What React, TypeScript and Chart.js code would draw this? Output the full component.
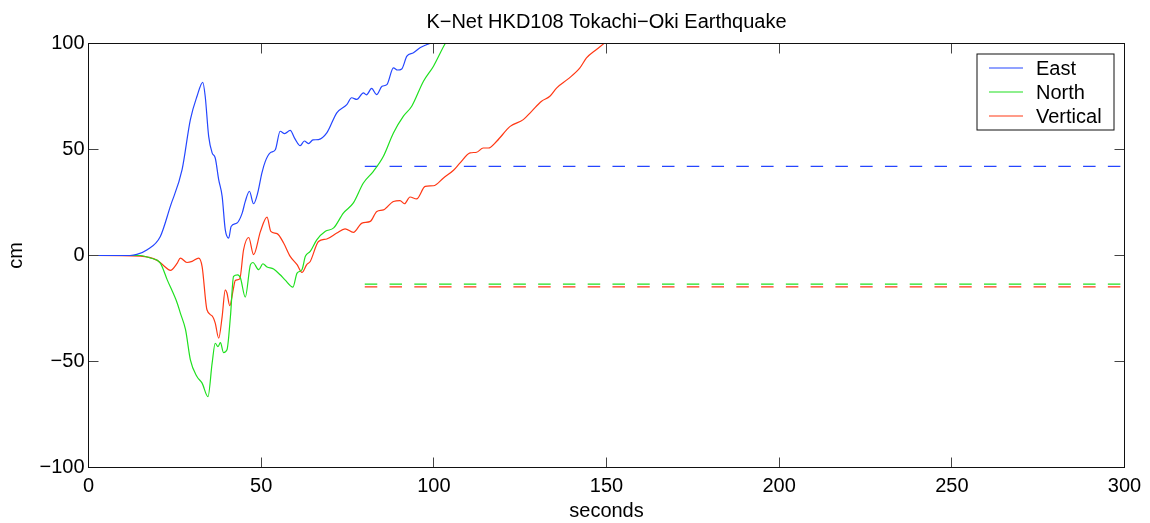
import React, { useEffect, useRef } from "react";
import { Chart, registerables } from "chart.js";
Chart.register(...registerables);

const TITLE = "K\u2212Net HKD108 Tokachi\u2212Oki Earthquake";
const X_LABEL = "seconds";
const Y_LABEL = "cm";
const X_TICKS = [0, 50, 100, 150, 200, 250, 300];
const Y_TICKS = [-100, -50, 0, 50, 100];
const SERIES_NAMES = ["East", "North", "Vertical"];
const COLORS = ["#2446ff", "#1fe01f", "#ff3814"];

// East component (time in s, displacement in cm)
const eastT = [0, 12, 14, 17, 20.8, 23.7, 27.1, 29.5, 31.4, 33.1,
  33.8, 34.8, 35.8, 36.7, 37.7, 38.7, 39.6, 40.6, 41.3, 43,
  44.5, 45.4, 46.6, 47.8, 49, 50.2, 51.2, 52.6, 54.1, 55.5,
  56.8, 58.4, 59.8, 61.3, 62.5, 63.7, 65, 66.6, 69, 71.9,
  74.8, 76.2, 77.7, 79.6, 80.5, 82, 83.4, 85, 86.4, 88.3,
  89.5, 90.7, 92.2, 94.1, 96, 98, 100, 102];
const eastV = [0, 0, 0.5, 2.7, 9, 23.2, 40.5, 64.1, 75, 81.7,
  75, 56.2, 48.4, 46, 35.8, 27.9, 12.2, 8.2, 13.7, 15.3,
  20, 25.5, 30.3, 24.4, 29.5, 38.9, 44.4, 48.4, 49.9, 58.6,
  57.5, 59, 55, 51.8, 54, 52.8, 54.5, 54.7, 57.8, 67.3,
  71.2, 74.4, 73.6, 76.7, 75.8, 78.8, 75.9, 79.8, 80.6, 88.5,
  87.5, 88, 94, 95.6, 98, 99.5, 101, 104];

// North component
const northT = [0, 15, 17.9, 20.8, 22.8, 25.7, 26.6, 28.1, 29.5, 31.4,
  32.9, 34.6, 35.8, 36.7, 37.5, 38.2, 39.1, 40.1, 41.1, 42,
  43.2, 44, 45.4, 46.9, 47.6, 49.3, 50.5, 51.7, 53.6, 55.5,
  56.9, 59.2, 60.4, 61.8, 62.8, 64.2, 66.1, 68.6, 71, 73.8,
  76.7, 79.6, 82.5, 85.4, 88.3, 91.2, 93.6, 97, 99.9, 103.3,
  105];
const northV = [0, 0, -1.2, -3.6, -11.5, -22.5, -27.2, -35, -49.2, -57.1,
  -60.2, -66.6, -50.8, -41.4, -43, -41.1, -45.8, -44.5, -28.8, -9.9,
  -9.1, -10.6, -19.6, -4.3, -3.3, -6.7, -3.9, -5.4, -6.4, -9.1,
  -11.5, -14.9, -8.3, -6.7, -0.4, 1.9, 7.4, 11.4, 13, 20,
  24.8, 34.2, 39.7, 46.8, 57.8, 65.7, 70.4, 82.2, 89.3, 100,
  104];

// Vertical component
const vertT = [0, 15, 19.9, 21.8, 23.7, 25.7, 26.6, 28.5, 30, 31.9,
  32.9, 34.3, 35.8, 36.7, 37.7, 38.7, 39.6, 40.1, 40.9, 41.9,
  42.5, 43.8, 44.9, 46.4, 47.8, 49.8, 51.7, 52.8, 54.6, 56.5,
  58.4, 60.4, 61.8, 63.2, 64.2, 66.6, 69, 71.9, 74.3, 76.7,
  79.2, 81.6, 83.5, 85.4, 88.3, 90.2, 91.5, 93.1, 95, 97.5,
  99.9, 102.8, 105.7, 107.6, 110.5, 112.4, 114.3, 115.8, 118.2, 122.1,
  125.9, 128.3, 131.2, 133.6, 135.6, 138.9, 142.3, 144.2, 147.1, 149.5,
  151];
const vertV = [0, -0.3, -2.3, -4.8, -7, -3.6, -1.2, -3.3, -2.8, -1.2,
  -5.2, -25.6, -28.5, -31.9, -39, -28.8, -16.2, -17.7, -23.7, -16.2,
  -11.8, -11, 2.7, 8.5, 0.4, 11.4, 18.1, 11.4, 10.3, 5.9,
  -0.4, -4.3, -8, -4.3, -2.8, 6.6, 7.8, 10.6, 12.6, 10.9,
  15.3, 16.1, 20.8, 21.5, 25.5, 25.9, 24.4, 27.6, 26.7, 32.6,
  32.9, 36.6, 40.2, 43.7, 48.4, 48.7, 50.7, 50.7, 53.9, 60.9,
  64.1, 68, 72.8, 75.1, 79.1, 83.3, 88.5, 93.2, 97.2, 100.3,
  103];

// Final static offsets (dashed)
const finalT = [80, 300];
const eastFinal = [42, 42];
const northFinal = [-13.5, -13.5];
const vertFinal = [-14.8, -14.8];

const FONT = "'Liberation Sans', Arial, Helvetica, sans-serif";
const FS = 20;

const pts = (t: number[], v: number[]) => t.map((x, i) => ({ x, y: v[i] }));
const fmt = (v: number) => (v < 0 ? "\u2212" + Math.abs(v) : String(v));

const framePlugin = {
  id: "frame",
  afterDatasetsDraw(chart: any) {
    const { ctx, chartArea: a, scales } = chart;
    ctx.save();
    ctx.lineWidth = 1;
    ctx.strokeStyle = "#444";
    ctx.beginPath();
    for (const v of X_TICKS) {
      const x = Math.round(scales.x.getPixelForValue(v) - 0.5) + 0.5;
      ctx.moveTo(x, a.bottom);
      ctx.lineTo(x, a.bottom - 10);
      ctx.moveTo(x, a.top);
      ctx.lineTo(x, a.top + 10);
    }
    for (const v of Y_TICKS) {
      const y = Math.round(scales.y.getPixelForValue(v) - 0.5) + 0.5;
      ctx.moveTo(a.left, y);
      ctx.lineTo(a.left + 10, y);
      ctx.moveTo(a.right, y);
      ctx.lineTo(a.right - 10, y);
    }
    ctx.stroke();
    ctx.strokeStyle = "#111";
    ctx.strokeRect(a.left, a.top, a.right - a.left, a.bottom - a.top);

    // legend box (north-east)
    const w = 137, h = 76;
    const lx = a.right - 10.5 - w;
    const ly = a.top + 10.5;
    ctx.fillStyle = "#fff";
    ctx.fillRect(lx, ly, w, h);
    ctx.strokeStyle = "#111";
    ctx.strokeRect(lx, ly, w, h);
    ctx.font = FS + "px " + FONT;
    ctx.textBaseline = "middle";
    ctx.textAlign = "left";
    SERIES_NAMES.forEach((name, i) => {
      const y = ly + 14 + i * 24;
      ctx.strokeStyle = COLORS[i];
      ctx.lineWidth = 1.2;
      ctx.beginPath();
      ctx.moveTo(lx + 12, y);
      ctx.lineTo(lx + 46, y);
      ctx.stroke();
      ctx.fillStyle = "#000";
      ctx.fillText(name, lx + 59, y + 1);
    });
    ctx.restore();
  },
};

export default function App() {
  const ref = useRef<HTMLCanvasElement | null>(null);
  useEffect(() => {
    if (!ref.current) return;
    const line = (label: string, data: any[], color: string, dashed: boolean) => ({
      label,
      data,
      borderColor: color,
      backgroundColor: color,
      borderWidth: 1.2,
      borderDash: dashed ? [12.5, 12.27] : [],
      pointRadius: 0,
      cubicInterpolationMode: "monotone",
      fill: false,
    });
    const chart = new Chart(ref.current, {
      type: "line",
      data: {
        datasets: [
          line(SERIES_NAMES[0], pts(eastT, eastV), COLORS[0], false),
          line(SERIES_NAMES[1], pts(northT, northV), COLORS[1], false),
          line(SERIES_NAMES[2], pts(vertT, vertV), COLORS[2], false),
          line(SERIES_NAMES[0] + " final", pts(finalT, eastFinal), COLORS[0], true),
          line(SERIES_NAMES[1] + " final", pts(finalT, northFinal), COLORS[1], true),
          line(SERIES_NAMES[2] + " final", pts(finalT, vertFinal), COLORS[2], true),
        ],
      },
      options: {
        animation: false,
        responsive: false,
        devicePixelRatio: 1,
        layout: { padding: { left: 0, top: 0, right: 25.5, bottom: 0 } },
        plugins: {
          legend: { display: false },
          tooltip: { enabled: false },
          title: {
            display: true,
            text: TITLE,
            fullSize: false,
            color: "#000",
            font: { family: FONT, size: FS, weight: "normal" },
            padding: { top: 10, bottom: 9.5 },
          },
        },
        scales: {
          x: {
            type: "linear",
            min: 0,
            max: 300,
            grid: { display: false, drawTicks: false },
            border: { display: false },
            afterBuildTicks: (s: any) => {
              s.ticks = X_TICKS.map((value) => ({ value }));
            },
            afterFit: (s: any) => {
              s.height = 55.5;
            },
            ticks: {
              color: "#000",
              padding: 7,
              maxRotation: 0,
              font: { family: FONT, size: FS },
              callback: (v: any) => fmt(Number(v)),
            },
            title: {
              display: true,
              text: X_LABEL,
              color: "#000",
              font: { family: FONT, size: FS },
              padding: { top: 0, bottom: 0 },
            },
          },
          y: {
            type: "linear",
            min: -100,
            max: 100,
            grid: { display: false, drawTicks: false },
            border: { display: false },
            afterBuildTicks: (s: any) => {
              s.ticks = Y_TICKS.map((value) => ({ value }));
            },
            afterFit: (s: any) => {
              s.width = 88.5;
            },
            ticks: {
              color: "#000",
              padding: 4,
              font: { family: FONT, size: FS },
              callback: (v: any) => fmt(Number(v)),
            },
            title: {
              display: true,
              text: Y_LABEL,
              color: "#000",
              font: { family: FONT, size: FS },
              padding: { top: 4.5, bottom: 0 },
            },
          },
        },
      },
      plugins: [framePlugin],
    } as any);
    return () => chart.destroy();
  }, []);
  return (
    <div style={{ position: "fixed", left: 0, top: 0, width: 1150, height: 523, background: "#fff" }}>
      <canvas ref={ref} width={1150} height={523} style={{ display: "block", width: 1150, height: 523 }} />
    </div>
  );
}
